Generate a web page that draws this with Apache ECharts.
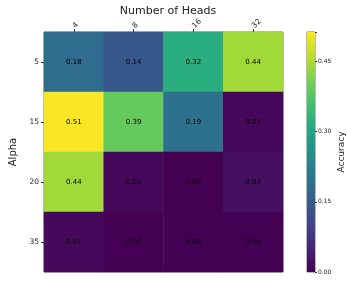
<!DOCTYPE html>
<html>
<head>
<meta charset="utf-8">
<script src="https://cdn.jsdelivr.net/npm/echarts@6/dist/echarts.min.js"></script>
<style>
  html, body { margin: 0; padding: 0; background: #fff; }
  #chart { width: 347px; height: 281px; }
</style>
</head>
<body>
<div id="chart"></div>
<script>
// data
var heads = ['4', '8', '16', '32'];
var alphas = ['5', '15', '20', '35'];
var acc = [
  [0.18, 0.14, 0.32, 0.44],
  [0.51, 0.39, 0.19, 0.01],
  [0.44, 0.01, 0.00, 0.02],
  [0.01, 0.00, 0.00, 0.00]
];
var cbTicks = [0.00, 0.15, 0.30, 0.45];
var vmax = 0.513;

var viridis = ['#440154', '#482475', '#414487', '#355f8d', '#2a788e', '#21918c',
  '#22a884', '#44bf70', '#7ad151', '#bddf26', '#fde725'];

var cells = [];
alphas.forEach(function (a, i) {
  heads.forEach(function (h, j) {
    cells.push([j, i, acc[i][j]]);
  });
});

// colorbar gradient (top = high)
var stops = viridis.map(function (c, k) {
  return { offset: 1 - k / (viridis.length - 1), color: c };
});

var myChart = echarts.init(document.getElementById('chart'));
var font = 'DejaVu Sans';

var option = {
  animation: false,
  textStyle: { fontFamily: font },
  title: {
    text: 'Number of Heads',
    left: 163, top: 1, textAlign: 'center',
    textStyle: { fontFamily: font, fontSize: 11, fontWeight: 'normal', color: '#222' }
  },
  grid: [
    { left: 44, top: 32, width: 239, height: 240, show: true, borderColor: '#777', borderWidth: 1, backgroundColor: 'transparent' },
    { left: 307, top: 32, width: 12, height: 240, show: true, borderColor: '#777', borderWidth: 1, backgroundColor: 'transparent' }
  ],
  xAxis: [
    {
      type: 'category', data: heads, position: 'top', gridIndex: 0,
      axisLine: { show: false },
      axisTick: { show: true, alignWithLabel: true, length: 3, lineStyle: { color: '#333' } },
      axisLabel: { rotate: -45, fontSize: 7.5, color: '#222', margin: 5 },
      splitLine: { show: false }
    },
    {
      type: 'category', data: [''], gridIndex: 1,
      axisLine: { show: false }, axisTick: { show: false }, axisLabel: { show: false }
    }
  ],
  yAxis: [
    {
      type: 'category', data: alphas, inverse: true, gridIndex: 0,
      name: 'Alpha', nameLocation: 'middle', nameRotate: 90, nameGap: 24,
      nameTextStyle: { fontSize: 10, color: '#222' },
      axisLine: { show: false },
      axisTick: { show: true, alignWithLabel: true, length: 3, lineStyle: { color: '#333' } },
      axisLabel: { fontSize: 7.5, color: '#222', margin: 5 },
      splitLine: { show: false }
    },
    {
      type: 'value', gridIndex: 1, position: 'right', min: 0, max: vmax, interval: 0.15,
      name: 'Accuracy', nameLocation: 'middle', nameRotate: 90, nameGap: 22,
      nameTextStyle: { fontSize: 9, color: '#222' },
      axisLine: { show: false },
      axisTick: { show: true, length: 2, lineStyle: { color: '#333' } },
      axisLabel: {
        fontSize: 6, color: '#222', margin: 3,
        formatter: function (v) { return cbTicks.indexOf(Math.round(v * 100) / 100) >= 0 ? v.toFixed(2) : ''; }
      },
      splitLine: { show: false }
    }
  ],
  visualMap: {
    show: false, min: 0, max: vmax, seriesIndex: 0,
    inRange: { color: viridis }
  },
  series: [
    {
      type: 'heatmap', xAxisIndex: 0, yAxisIndex: 0,
      data: cells,
      label: {
        show: true, fontSize: 7, color: '#000',
        formatter: function (p) { return p.value[2].toFixed(2); }
      }
    },
    {
      type: 'bar', xAxisIndex: 1, yAxisIndex: 1,
      data: [vmax], barWidth: '100%', silent: true,
      itemStyle: { color: new echarts.graphic.LinearGradient(0, 0, 0, 1, stops) }
    }
  ]
};

option && myChart.setOption(option);
</script>
</body>
</html>
